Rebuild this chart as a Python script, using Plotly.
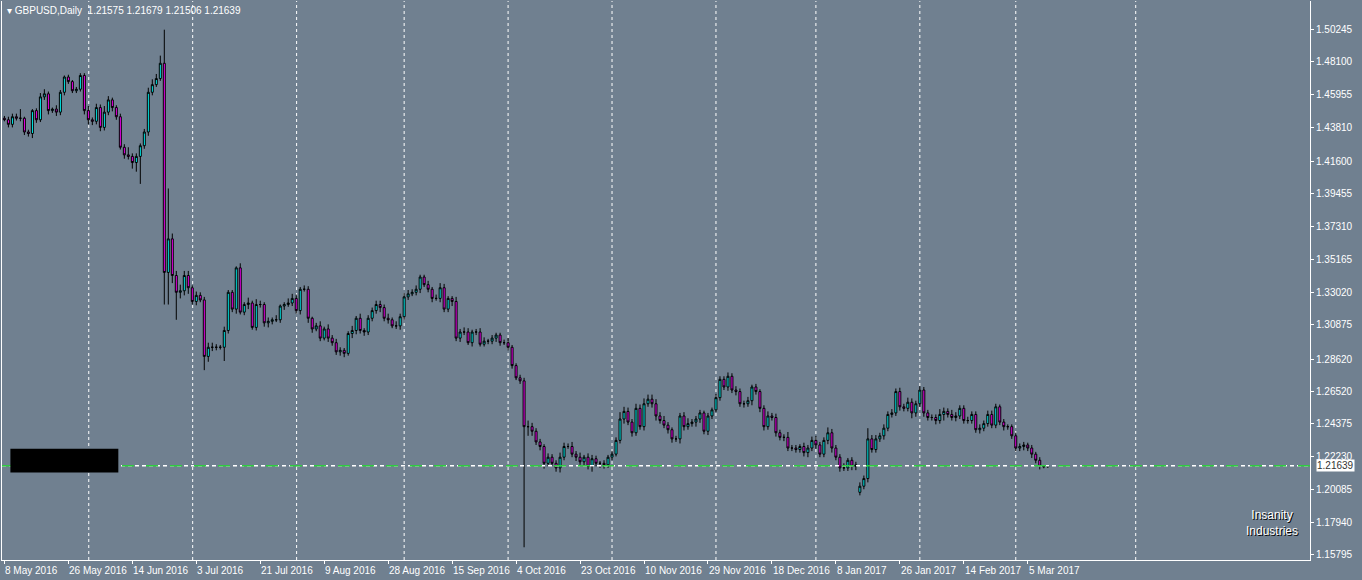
import plotly.graph_objects as go

# Daily closes (GBPUSD, MT4 daily incl. Sunday bars)
closes = [
    1.443, 1.440, 1.445, 1.444, 1.444, 1.435, 1.434, 1.449, 1.443, 1.458,
    1.460, 1.449, 1.450, 1.448, 1.461, 1.471, 1.468, 1.462, 1.463, 1.472,
    1.449, 1.443, 1.442, 1.451, 1.438, 1.448, 1.456, 1.451, 1.445, 1.425,
    1.420, 1.419, 1.415, 1.419, 1.426, 1.435, 1.461, 1.466, 1.470, 1.480,
    1.343, 1.365, 1.341, 1.330, 1.331, 1.341, 1.333, 1.324, 1.328, 1.325,
    1.288, 1.294, 1.294, 1.294, 1.294, 1.305, 1.330, 1.319, 1.346, 1.317,
    1.322, 1.323, 1.307, 1.322, 1.322, 1.310, 1.311, 1.312, 1.312, 1.321,
    1.322, 1.323, 1.326, 1.318, 1.332, 1.332, 1.313, 1.306, 1.308, 1.300,
    1.306, 1.300, 1.297, 1.291, 1.292, 1.290, 1.303, 1.305, 1.313, 1.305,
    1.304, 1.313, 1.318, 1.322, 1.320, 1.313, 1.312, 1.308, 1.308, 1.314,
    1.327, 1.329, 1.330, 1.332, 1.340, 1.335, 1.332, 1.326, 1.326, 1.333,
    1.319, 1.326, 1.324, 1.300, 1.304, 1.304, 1.297, 1.304, 1.304, 1.296,
    1.298, 1.298, 1.300, 1.302, 1.297, 1.297, 1.294, 1.282, 1.274, 1.272,
    1.242, 1.242, 1.239, 1.232, 1.229, 1.218, 1.222, 1.218, 1.215, 1.222,
    1.229, 1.229, 1.224, 1.222, 1.219, 1.222, 1.216, 1.221, 1.218, 1.218,
    1.217, 1.222, 1.224, 1.233, 1.247, 1.252, 1.245, 1.238, 1.254, 1.242,
    1.257, 1.260, 1.257, 1.249, 1.246, 1.243, 1.240, 1.234, 1.234, 1.249,
    1.242, 1.244, 1.245, 1.247, 1.251, 1.239, 1.249, 1.253, 1.261, 1.273,
    1.268, 1.275, 1.266, 1.265, 1.257, 1.257, 1.259, 1.268, 1.265, 1.254,
    1.242, 1.249, 1.248, 1.238, 1.235, 1.235, 1.228, 1.228, 1.227, 1.229,
    1.225, 1.228, 1.233, 1.230, 1.224, 1.233, 1.238, 1.228, 1.222, 1.215,
    1.215, 1.220, 1.216, 1.217, 1.203, 1.208, 1.234, 1.227, 1.234, 1.236,
    1.241, 1.250, 1.251, 1.265, 1.255, 1.254, 1.258, 1.251, 1.257, 1.266,
    1.251, 1.248, 1.248, 1.246, 1.250, 1.252, 1.250, 1.248, 1.249, 1.254,
    1.246, 1.246, 1.250, 1.240, 1.241, 1.244, 1.250, 1.243, 1.255, 1.245,
    1.242, 1.242, 1.236, 1.228, 1.229, 1.230, 1.228, 1.224, 1.220, 1.216,
    1.21575, 1.21639,
]
first_open = 1.444
open_gaps = {214: 1.199}   # weekend gap open (8 Jan 2017)

# upper / lower wick lengths in pips
upper_pips = [
    15, 20, 20, 20, 60, 10, 15, 10, 15, 25,
    30, 15, 10, 25, 15, 10, 15, 10, 15, 15,
    15, 30, 15, 25, 20, 40, 25, 15, 15, 20,
    20, 50, 20, 20, 15, 20, 30, 35, 30, 50,
    220, 330, 35, 30, 40, 30, 30, 15, 25, 20,
    20, 30, 30, 20, 15, 25, 15, 15, 10, 30,
    15, 35, 15, 35, 25, 15, 25, 15, 30, 10,
    15, 30, 30, 25, 15, 25, 20, 10, 20, 30,
    15, 30, 20, 25, 20, 15, 15, 30, 15, 30,
    15, 20, 20, 25, 25, 20, 30, 15, 30, 20,
    25, 25, 20, 25, 15, 15, 25, 15, 25, 30,
    25, 15, 15, 30, 20, 30, 25, 15, 20, 25,
    25, 15, 20, 15, 15, 20, 30, 15, 15, 20,
    20, 40, 25, 20, 20, 15, 25, 20, 20, 30,
    25, 20, 30, 20, 30, 15, 25, 25, 20, 15,
    20, 15, 20, 20, 45, 30, 25, 20, 30, 25,
    35, 30, 30, 30, 25, 30, 20, 15, 20, 20,
    25, 35, 20, 20, 20, 15, 20, 15, 25, 20,
    20, 25, 20, 25, 20, 20, 25, 15, 20, 15,
    20, 30, 20, 25, 20, 20, 35, 20, 20, 15,
    25, 20, 25, 30, 20, 20, 35, 25, 20, 20,
    30, 15, 20, 20, 25, 20, 70, 25, 25, 20,
    25, 20, 25, 20, 25, 20, 30, 25, 20, 25,
    20, 20, 20, 20, 35, 25, 20, 30, 25, 20,
    20, 25, 20, 20, 25, 20, 25, 25, 20, 15,
    20, 15, 15, 20, 20, 20, 15, 20, 15, 20,
    8, 4,
]
lower_pips = [
    10, 20, 20, 15, 20, 20, 20, 30, 20, 15,
    20, 25, 15, 25, 20, 20, 15, 15, 15, 15,
    25, 30, 25, 20, 25, 20, 20, 25, 20, 15,
    25, 20, 40, 60, 180, 20, 25, 20, 15, 15,
    210, 210, 50, 180, 40, 30, 40, 20, 25, 15,
    90, 35, 25, 20, 15, 90, 20, 20, 30, 15,
    20, 30, 15, 20, 20, 25, 30, 20, 15, 20,
    25, 15, 20, 20, 25, 15, 30, 25, 15, 20,
    15, 25, 20, 20, 25, 25, 15, 30, 25, 20,
    25, 20, 20, 20, 30, 20, 25, 15, 20, 25,
    20, 20, 15, 20, 25, 15, 20, 25, 15, 25,
    20, 20, 30, 20, 25, 20, 15, 25, 20, 15,
    15, 20, 20, 25, 20, 15, 20, 20, 15, 20,
    790, 60, 30, 20, 25, 35, 20, 15, 25, 30,
    20, 15, 20, 25, 20, 30, 20, 35, 20, 30,
    25, 20, 20, 15, 20, 30, 20, 25, 20, 20,
    25, 20, 25, 30, 20, 20, 25, 25, 20, 30,
    25, 20, 20, 30, 25, 20, 25, 20, 15, 20,
    20, 25, 20, 25, 20, 25, 20, 30, 20, 25,
    25, 20, 20, 25, 20, 25, 20, 20, 20, 20,
    25, 30, 20, 25, 20, 20, 25, 30, 20, 25,
    20, 20, 25, 25, 20, 20, 25, 20, 20, 20,
    25, 20, 20, 20, 25, 20, 20, 35, 25, 20,
    25, 20, 20, 25, 20, 40, 20, 20, 25, 20,
    20, 20, 20, 20, 25, 20, 20, 20, 20, 20,
    25, 20, 20, 20, 20, 25, 20, 25, 20, 20,
    10, 7,
]

date_labels = ["8 May 2016", "26 May 2016", "14 Jun 2016", "3 Jul 2016", "21 Jul 2016",
               "9 Aug 2016", "28 Aug 2016", "15 Sep 2016", "4 Oct 2016", "23 Oct 2016",
               "10 Nov 2016", "29 Nov 2016", "18 Dec 2016", "8 Jan 2017", "26 Jan 2017",
               "14 Feb 2017", "5 Mar 2017"]
price_ticks = [1.50245, 1.48100, 1.45955, 1.43810, 1.41600, 1.39455, 1.37310, 1.35165,
               1.33020, 1.30875, 1.28620, 1.26520, 1.24375, 1.22230, 1.20085, 1.17940, 1.15795]
bid = 1.21639

opens = [first_open] + closes[:-1]
for k, v in open_gaps.items():
    opens[k] = v
highs = [max(o, c) + u / 10000 for o, c, u in zip(opens, closes, upper_pips)]
lows = [min(o, c) - d / 10000 for o, c, d in zip(opens, closes, lower_pips)]
idx = list(range(len(closes)))

BG = "#708090"
FONT = "Liberation Sans"
fig = go.Figure()
fig.add_trace(go.Candlestick(
    x=idx, open=opens, high=highs, low=lows, close=closes,
    increasing=dict(fillcolor="#00ffff", line=dict(color="black", width=1)),
    decreasing=dict(fillcolor="#ff00ff", line=dict(color="black", width=1)),
    whiskerwidth=0, showlegend=False, hoverinfo="skip",
))

# vertical dashed grid lines
for gx in [21.1, 47.1, 73.1, 100, 126, 152, 178, 203, 229, 253, 283]:
    fig.add_shape(type="line", x0=gx, x1=gx, y0=0, y1=1, yref="paper",
                  line=dict(color="white", width=1, dash="3px,3px"), layer="below")

# bid line
fig.add_shape(type="line", x0=0, x1=1, xref="paper", y0=bid, y1=bid,
              line=dict(color="white", width=1.5, dash="4px,3px"))
fig.add_shape(type="line", x0=0, x1=1, xref="paper", y0=bid, y1=bid,
              line=dict(color="#2ecc40", width=1.5, dash="12px,12px"))

# black box at left
fig.add_shape(type="rect", x0=1.5, x1=28.5, y0=1.2120, y1=1.2275,
              fillcolor="black", line=dict(width=0))

# date labels along bottom
for i, lab in enumerate(date_labels):
    fig.add_annotation(x=i * 16 - 0.3, y=0, yref="paper", text=lab, showarrow=False,
                       xanchor="left", yanchor="top", yshift=-3,
                       font=dict(color="white", size=10, family=FONT))

fig.add_annotation(x=1.0, xref="paper", y=bid, text="1.21639", showarrow=False,
                   xanchor="left", xshift=6, bgcolor="white", borderpad=0,
                   font=dict(color="#333333", size=10, family=FONT))

fig.add_annotation(x=0.002, xref="paper", y=1, yref="paper", yanchor="top", xanchor="left",
                   text="▾ GBPUSD,Daily  1.21575 1.21679 1.21506 1.21639", showarrow=False,
                   yshift=-2, font=dict(color="white", size=10, family=FONT))

fig.add_annotation(x=0.992, xref="paper", y=0.035, yref="paper", text="Insanity<br>Industries",
                   showarrow=False, align="center", xanchor="right", yanchor="bottom",
                   font=dict(color="white", size=12, family=FONT,
                             shadow="1px 1px 0px black"))

fig.update_layout(
    width=1362, height=580,
    margin=dict(l=2, r=52, t=1, b=20),
    paper_bgcolor=BG, plot_bgcolor=BG,
    xaxis=dict(range=[-0.6, 326.6], rangeslider=dict(visible=False), showgrid=False,
               zeroline=False, showline=True, linecolor="white", linewidth=1,
               tickvals=[i * 16 for i in range(len(date_labels))], ticks="outside",
               ticklen=3, tickcolor="white", showticklabels=False),
    yaxis=dict(range=[1.15467, 1.52079], side="right", showgrid=False, zeroline=False,
               showline=True, linecolor="white", linewidth=1, mirror=True,
               tickvals=price_ticks, ticktext=[f"{v:.5f}" for v in price_ticks],
               ticks="outside", ticklen=3, tickcolor="white",
               tickfont=dict(color="white", size=10, family=FONT)),
)

fig.write_html("out.html", config={"displayModeBar": False})
with open("out.html") as f:
    page = f.read()
page = page.replace("<body>", '<body style="margin:0;background:%s">' % BG, 1)
with open("out.html", "w") as f:
    f.write(page)
